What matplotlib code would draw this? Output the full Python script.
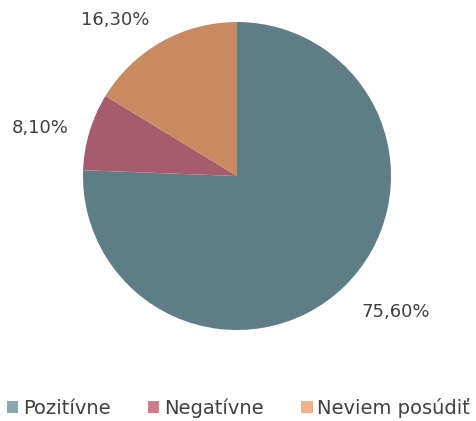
import matplotlib.pyplot as plt
from matplotlib.patches import Patch

categories = ['Pozitívne', 'Negatívne', 'Neviem posúdiť']
values = [75.6, 8.1, 16.3]
pct_labels = ['75,60%', '8,10%', '16,30%']
pie_colors = ['#5f7d86', '#a55c6c', '#c98a62']
legend_colors = ['#8aa6ae', '#cf7d8d', '#f0b088']

# label placement relative to pie centre, in pie radii
label_pos = [(1.03, -0.88), (-1.28, 0.31), (-0.79, 1.01)]

plt.rcParams['font.family'] = ['DejaVu Sans']

fig = plt.figure(figsize=(4.77, 4.21), dpi=100)
# pie centre ~ (237, 176) px, radius ~154 px
r_px = 154
ax = fig.add_axes([(237 - r_px) / 477, (421 - 176 - r_px) / 421,
                   2 * r_px / 477, 2 * r_px / 421])

wedges, _ = ax.pie(values, colors=pie_colors, startangle=90,
                   counterclock=False, radius=1.0)
for lab, (x, y) in zip(pct_labels, label_pos):
    ax.text(x, y, lab, ha='center', va='center', color='#404040',
            fontsize=13, clip_on=False)
ax.set_xlim(-1, 1)
ax.set_ylim(-1, 1)
ax.set_aspect('equal')
ax.axis('off')

handles = [Patch(facecolor=c, edgecolor='none') for c in legend_colors]
fig.legend(handles, categories, loc='center', bbox_to_anchor=(0.5, 1 - 408 / 421),
           ncol=3, frameon=False, fontsize=14, handlelength=0.6, handleheight=0.6,
           handletextpad=0.25, columnspacing=1.9, labelcolor='#404040')

fig.savefig('out.png', dpi=100)
